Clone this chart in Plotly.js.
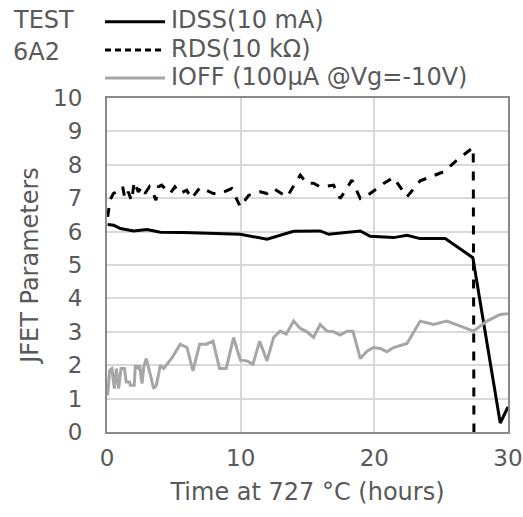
<!DOCTYPE html>
<html><head><meta charset="utf-8">
<script src="https://cdn.plot.ly/plotly-3.0.1.min.js"></script>
<style>html,body{margin:0;padding:0;background:#fff}#c{width:523px;height:517px}</style>
</head><body><div id="c"></div>
<script>
const idssX = [0.05,0.5,1.0,2.0,2.99,3.99,5.73,7.73,9.97,11.97,13.96,15.95,16.58,18.95,19.69,21.44,22.44,23.43,25.3,27.37,29.42,30.0];
const idssY = [6.21,6.19,6.09,6.02,6.06,5.98,5.97,5.94,5.92,5.77,6.01,6.02,5.92,6.02,5.86,5.82,5.89,5.79,5.79,5.22,0.27,0.75];

const rdsX = [0.05,0.1,0.23,0.47,0.72,0.97,1.17,1.34,1.59,1.84,2.04,2.34,2.59,2.84,3.17,3.46,3.66,3.84,4.09,4.71,5.08,5.46,5.96,6.33,6.96,7.96,8.46,9.33,9.97,10.6,11.47,11.97,12.46,13.46,14.46,14.96,15.45,15.95,16.95,17.45,18.32,18.95,19.69,20.69,21.44,22.44,23.43,25.18,26.18,27.4,27.45];
const rdsY = [6.44,6.64,6.94,7.14,7.19,7.24,7.34,6.99,7.19,6.92,7.49,7.19,7.34,7.14,7.34,7.14,6.94,7.34,7.39,7.14,7.34,7.14,7.24,6.99,7.32,7.14,7.14,7.29,6.74,7.09,7.19,7.14,7.29,7.04,7.69,7.44,7.45,7.34,7.39,6.99,7.54,6.99,7.14,7.44,7.62,7.04,7.52,7.79,8.14,8.52,0];

const ioffX = [0.05,0.2,0.37,0.55,0.7,0.87,1.05,1.3,1.44,1.69,1.74,2.04,2.12,2.37,2.44,2.62,2.75,2.94,3.19,3.49,3.69,3.99,4.24,4.61,4.86,5.48,5.98,6.43,6.93,7.43,7.93,8.42,8.92,9.47,9.97,10.47,10.92,11.42,11.97,12.46,12.96,13.41,13.96,14.46,14.96,15.45,15.95,16.45,16.95,17.45,17.95,18.4,18.95,19.45,19.94,20.44,20.94,21.44,21.94,22.44,23.43,24.43,25.43,27.42,28.42,29.42,30.0];
const ioffY = [1.1,1.85,1.9,1.3,1.9,1.3,1.9,1.9,1.5,1.5,1.4,1.4,2.0,1.9,2.0,1.45,1.95,2.2,1.8,1.3,1.4,2.0,1.9,2.1,2.22,2.63,2.53,1.83,2.63,2.63,2.72,1.9,1.9,2.83,2.15,2.13,2.03,2.72,2.13,2.83,3.02,2.93,3.32,3.1,3.0,2.83,3.22,3.02,3.0,2.9,3.02,3.02,2.2,2.42,2.53,2.5,2.4,2.53,2.58,2.65,3.32,3.22,3.32,3.02,3.32,3.52,3.54];

const names = ['IDSS(10 mA)','RDS(10 kΩ)','IOFF (100µA @Vg=-10V)'];
const colors = ['#000000','#000000','#a6a6a6'];
const dashes = ['solid','dash','solid'];
const xTicks = [0,10,20,30];
const yTicks = [0,1,2,3,4,5,6,7,8,9,10];
const sampleLabel = ['TEST','6A2'];

const gray = '#595959';
const FONT = 'DejaVu Sans, Liberation Sans, Arial, sans-serif';
const xs = [idssX, rdsX, ioffX], ys = [idssY, rdsY, ioffY];
const traces = names.map((n,i)=>({x: xs[i], y: ys[i], name: n, mode:'lines', showlegend:false,
  line:{color: colors[i], width:3, dash: dashes[i]}}));

// legend (drawn as paper-referenced keys so the key lines match the reference length)
const rowY = [1.2284, 1.1437, 1.06];
const shapes = names.map((n,i)=>({type:'line', xref:'paper', yref:'paper', x0:-0.005, x1:0.1446, y0:rowY[i], y1:rowY[i],
  line:{color: colors[i], width:3, dash: i===1 ? '6px,4px' : 'solid'}}));
const annotations = names.map((n,i)=>({text:n, xref:'paper', yref:'paper', x:0.155, y:rowY[i]+0.004, xanchor:'left', yanchor:'middle',
  showarrow:false, font:{size:24, color:gray, family:FONT}}));
annotations.push({text:sampleLabel[0], xref:'paper', yref:'paper', x:-0.24, y:1.235, xanchor:'left', yanchor:'middle', showarrow:false, font:{size:24, color:gray, family:FONT}});
annotations.push({text:sampleLabel[1], xref:'paper', yref:'paper', x:-0.24, y:1.139, xanchor:'left', yanchor:'middle', showarrow:false, font:{size:24, color:gray, family:FONT}});

const layout = {
  width:523, height:517,
  margin:{l:107, r:15, t:98, b:85},
  paper_bgcolor:'#fff', plot_bgcolor:'#fff',
  font:{family:FONT, size:24, color:gray},
  showlegend:false,
  xaxis:{range:[0,30], tickvals:xTicks, ticktext:xTicks.map(String), showgrid:true, gridcolor:'#d9d9d9', gridwidth:2,
         zeroline:false, showline:true, linecolor:'#898989', linewidth:2, mirror:true, ticks:'',
         tickfont:{size:23, color:gray}, ticklabelstandoff:4,
         title:{text:'Time at 727 °C (hours)', font:{size:24, color:gray}, standoff:14}},
  yaxis:{range:[0,10], tickvals:yTicks, ticktext:yTicks.map(String), showgrid:true, gridcolor:'#d9d9d9', gridwidth:2,
         zeroline:false, showline:true, linecolor:'#898989', linewidth:2, mirror:true, ticks:'',
         tickfont:{size:23, color:gray}, ticklabelstandoff:18,
         title:{text:'JFET Parameters', font:{size:24, color:gray}, standoff:8}},
  shapes: shapes,
  annotations: annotations
};
Plotly.newPlot('c', traces, layout, {displayModeBar:false, staticPlot:true});
</script></body></html>
